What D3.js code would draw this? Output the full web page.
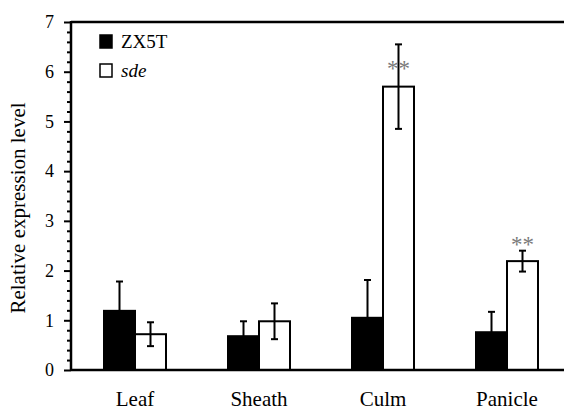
<!DOCTYPE html>
<html>
<head>
<meta charset="utf-8">
<script src="https://cdn.jsdelivr.net/npm/d3@7"></script>
<style>
  html, body { margin: 0; padding: 0; background: #fff; }
  svg { display: block; }
  svg text { font-family: "Liberation Serif", "Times New Roman", Tinos, "DejaVu Serif", serif; fill: #000; }
</style>
</head>
<body>
<svg id="chart" width="564" height="411"></svg>
<script>
// ---- data ----
const categories = ["Leaf", "Sheath", "Culm", "Panicle"];
const seriesNames = ["ZX5T", "sde"];
const zx5tValues = [1.19, 0.68, 1.05, 0.76];
const zx5tErrors = [0.59, 0.30, 0.76, 0.41];
const sdeValues = [0.72, 0.98, 5.70, 2.19];
const sdeErrors = [0.24, 0.36, 0.85, 0.21];
const sigMarks = ["", "", "**", "**"];
const sigLevels = [null, null, 6.18, 2.64];
const yTicks = [0, 1, 2, 3, 4, 5, 6, 7];
const yMinorTicks = d3.range(0, 7.001, 0.2);

// ---- layout ----
const svg = d3.select("#chart");
const axisX = 71, topY = 22, baseY = 370;
const serif = "'Liberation Serif', 'Times New Roman', Tinos, 'DejaVu Serif', serif";

const x = d3.scaleBand().domain(categories).range([73, 569])
  .paddingInner(0.5).paddingOuter(0.25);
const sub = d3.scaleBand().domain(seriesNames).range([0, x.bandwidth()]);
const y = d3.scaleLinear().domain([0, 7]).range([baseY, topY]);

const data = [];
categories.forEach((c, i) => {
  data.push({cat: c, series: "ZX5T", v: zx5tValues[i], e: zx5tErrors[i], fill: "#000"});
  data.push({cat: c, series: "sde", v: sdeValues[i], e: sdeErrors[i], fill: "#fff"});
});

// bars
svg.append("g").selectAll("rect").data(data).join("rect")
  .attr("x", d => x(d.cat) + sub(d.series))
  .attr("y", d => y(d.v))
  .attr("width", sub.bandwidth())
  .attr("height", d => y(0) - y(d.v))
  .attr("fill", d => d.fill)
  .attr("stroke", "#000")
  .attr("stroke-width", 2);

// error bars
const eg = svg.append("g").attr("stroke", "#000").attr("stroke-width", 2);
data.forEach(d => {
  const cx = x(d.cat) + sub(d.series) + sub.bandwidth() / 2;
  const lo = d.series === "ZX5T" ? d.v : d.v - d.e;
  eg.append("line").attr("x1", cx).attr("x2", cx).attr("y1", y(lo)).attr("y2", y(d.v + d.e));
  eg.append("line").attr("x1", cx - 3.5).attr("x2", cx + 3.5).attr("y1", y(d.v + d.e)).attr("y2", y(d.v + d.e));
  if (d.series !== "ZX5T") {
    eg.append("line").attr("x1", cx - 3.5).attr("x2", cx + 3.5).attr("y1", y(d.v - d.e)).attr("y2", y(d.v - d.e));
  }
});

// significance marks
categories.forEach((c, i) => {
  if (!sigMarks[i]) return;
  const cx = x(c) + sub("sde") + sub.bandwidth() / 2;
  svg.append("text")
    .attr("x", cx).attr("y", y(sigLevels[i]) + 13)
    .attr("text-anchor", "middle")
    .attr("font-family", serif)
    .style("font-size", "23px")
    .style("fill", "#7a7a7a")
    .text(sigMarks[i]);
});

// y axis
const yAxis = d3.axisLeft(y).tickValues(yTicks).tickSize(7).tickPadding(10).tickFormat(d3.format("d"));
const yg = svg.append("g").attr("transform", `translate(${axisX},0)`).call(yAxis)
  .attr("font-family", serif);
yg.select(".domain").remove();
yg.selectAll(".tick line").attr("stroke-width", 2);
yg.selectAll(".tick text").style("font-size", "18px");
const yMinor = d3.axisLeft(y).tickValues(yMinorTicks.filter(v => Math.abs(v - Math.round(v)) > 1e-6))
  .tickSize(4).tickFormat("");
const ymg = svg.append("g").attr("transform", `translate(${axisX},0)`).call(yMinor);
ymg.select(".domain").remove();
ymg.selectAll(".tick line").attr("stroke-width", 2);

// frame lines
svg.append("line").attr("x1", axisX).attr("x2", axisX).attr("y1", topY - 1).attr("y2", baseY + 1)
  .attr("stroke", "#000").attr("stroke-width", 2.5);
svg.append("line").attr("x1", axisX).attr("x2", 564).attr("y1", topY).attr("y2", topY)
  .attr("stroke", "#000").attr("stroke-width", 2.5);
svg.append("line").attr("x1", axisX).attr("x2", 564).attr("y1", baseY).attr("y2", baseY)
  .attr("stroke", "#000").attr("stroke-width", 2.5);

// x labels
const xAxis = d3.axisBottom(x).tickSize(0).tickPadding(21);
const xg = svg.append("g").attr("transform", `translate(0,${baseY})`).call(xAxis)
  .attr("font-family", serif);
xg.select(".domain").remove();
xg.selectAll(".tick text").style("font-size", "21px");

// y label
svg.append("text")
  .attr("transform", `translate(25,${(topY + baseY) / 2 + 12}) rotate(-90)`)
  .attr("text-anchor", "middle")
  .attr("font-family", serif)
  .style("font-size", "21px")
  .text("Relative expression level");

// legend
const leg = svg.append("g").attr("font-family", serif);
seriesNames.forEach((s, i) => {
  const ly = 35 + i * 29;
  leg.append("rect").attr("x", 100).attr("y", ly).attr("width", 12).attr("height", 13)
    .attr("fill", i === 0 ? "#000" : "#fff").attr("stroke", "#000").attr("stroke-width", 1.5);
  leg.append("text").attr("x", 121).attr("y", ly + 13)
    .style("font-size", "19px")
    .style("font-style", i === 1 ? "italic" : "normal")
    .text(s);
});
</script>
</body>
</html>
